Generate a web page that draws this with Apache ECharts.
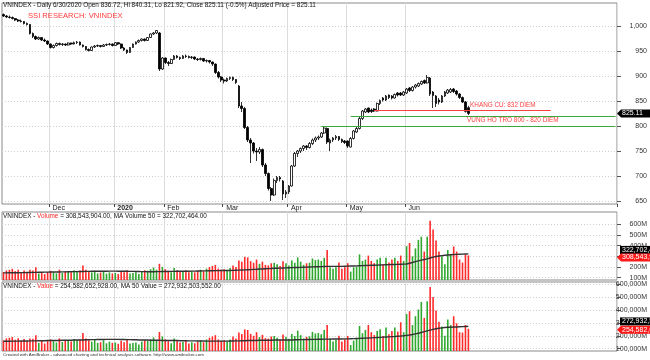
<!DOCTYPE html>
<html><head><meta charset="utf-8">
<script src="https://cdn.jsdelivr.net/npm/echarts@6/dist/echarts.min.js"></script>
<style>html,body{margin:0;padding:0;background:#fff}#c{width:650px;height:360px}</style>
</head><body><div id="c"></div>
<script>
const dates = [
'2019-11-08','2019-11-11','2019-11-12','2019-11-13','2019-11-14','2019-11-15','2019-11-18','2019-11-19','2019-11-20','2019-11-21','2019-11-22','2019-11-25','2019-11-26','2019-11-27','2019-11-28','2019-11-29',
'2019-12-02','2019-12-03','2019-12-04','2019-12-05','2019-12-06','2019-12-09','2019-12-10','2019-12-11','2019-12-12','2019-12-13','2019-12-16','2019-12-17','2019-12-18','2019-12-19','2019-12-20','2019-12-23','2019-12-24','2019-12-25','2019-12-26','2019-12-27','2019-12-30','2019-12-31',
'2020-01-02','2020-01-03','2020-01-06','2020-01-07','2020-01-08','2020-01-09','2020-01-10','2020-01-13','2020-01-14','2020-01-15','2020-01-16','2020-01-17','2020-01-20','2020-01-21','2020-01-22','2020-01-30','2020-01-31',
'2020-02-03','2020-02-04','2020-02-05','2020-02-06','2020-02-07','2020-02-10','2020-02-11','2020-02-12','2020-02-13','2020-02-14','2020-02-17','2020-02-18','2020-02-19','2020-02-20','2020-02-21','2020-02-24','2020-02-25','2020-02-26','2020-02-27','2020-02-28',
'2020-03-02','2020-03-03','2020-03-04','2020-03-05','2020-03-06','2020-03-09','2020-03-10','2020-03-11','2020-03-12','2020-03-13','2020-03-16','2020-03-17','2020-03-18','2020-03-19','2020-03-20','2020-03-23','2020-03-24','2020-03-25','2020-03-26','2020-03-27','2020-03-30','2020-03-31',
'2020-04-01','2020-04-03','2020-04-06','2020-04-07','2020-04-08','2020-04-09','2020-04-10','2020-04-13','2020-04-14','2020-04-15','2020-04-16','2020-04-17','2020-04-20','2020-04-21','2020-04-22','2020-04-23','2020-04-24','2020-04-27','2020-04-28','2020-04-29',
'2020-05-04','2020-05-05','2020-05-06','2020-05-07','2020-05-08','2020-05-11','2020-05-12','2020-05-13','2020-05-14','2020-05-15','2020-05-18','2020-05-19','2020-05-20','2020-05-21','2020-05-22','2020-05-25','2020-05-26','2020-05-27','2020-05-28','2020-05-29',
'2020-06-01','2020-06-02','2020-06-03','2020-06-04','2020-06-05','2020-06-08','2020-06-09','2020-06-10','2020-06-11','2020-06-12','2020-06-15','2020-06-16','2020-06-17','2020-06-18','2020-06-19','2020-06-22','2020-06-23','2020-06-24','2020-06-25','2020-06-26','2020-06-29','2020-06-30'];

const open = [1023,1020,1018,1017,1015,1012,1010,1009,1005,1003,985,979,974,977,972,970,
964,957,961,965,963,964,962,966,964,967,968,962,959,953,951,958,960,961,959,962,963,964,
961,966.7,964,956,952,947,957,964,968,971,974,971,977,984,986,986,914,
936,927,925,933,940,937,935,940,939,937,938,934,933,935,930,931,928,924,907,898,
892,890,895,897,893,880,840,835,797,772,766,750,748,753,722,705,675,662,691,697,690,664,
668,680,720,745,750,755,760,757,765,772,776,778,786,795,766,772,776,779,773,770,
770,758,775,788,795,815,828,836,832,834,830,845,856,852,862,860,856,866,866,862,
866,876,871,878,880,884,891,886,896,868,860,852,848,860,866,868,874,870,864,857,848,836.72];
const high = [1025,1022,1021,1019,1016,1014,1013,1010,1007,1004,987,981,979,978,975,971,
965,963,967,967,966,965,967,967,969,970,969,963,960,955,959,962,963,962,964,965,966,965,
968,968,965,958,953,958,965,969,973,975,975,978,985,988,992,988,938,
937,930,935,942,942,939,942,943,941,940,939,936,937,936,933,932,929,925,910,900,
895,897,899,899,894,882,848,838,800,776,768,756,758,755,726,707,678,695,700,700,692,672,
682,722,748,752,757,762,762,768,775,779,781,788,800,797,775,778,782,780,775,772,
771,778,792,798,818,832,836,837,835,836,847,853,858,862,863,862,865,868,868,870,
876,878,880,884,887,891,893,902,898,870,862,856,862,870,874,876,876,872,866,859,850,840.31];
const low = [1018,1016,1015,1013,1010,1008,1007,1003,1001,983,976,972,972,970,968,962,
955,955,959,961,960,960,961,962,963,964,961,957,951,949,950,956,958,957,958,960,961,959,
960,962,954,950,944,946,956,963,966,969,969,970,976,982,984,910,912,
924,920,924,932,935,932,934,936,935,934,932,930,931,928,927,925,920,904,895,888,
885,888,892,890,884,836,828,794,768,726,745,730,744,718,700,671,650,660,686,689,652,656,
664,679,718,738,746,750,752,755,762,768,772,776,784,764,750,768,772,770,766,764,
756,757,773,786,793,812,826,826,826,828,829,842,849,850,854,853,855,859,860,860,
864,868,869,875,878,882,884,885,860,836,838,843,846,858,864,866,866,861,854,846,827,821.92];
const close = [1020,1018,1017,1015,1012,1010,1009,1005,1003,985,979,974,977,972,970,964,
957,961,965,963,964,962,966,964,967,968,962,959,953,951,958,960,961,959,962,963,964,961,
966.7,964,956,952,947,957,964,968,971,974,971,977,984,986,991,914,936,
927,925,933,940,937,935,940,939,937,938,934,933,935,930,931,928,924,907,898,892,
890,895,897,893,887,840,835,797,772,766,750,748,753,722,705,675,662,691,697,694,664,668,
680,720,745,750,755,760,757,765,772,776,778,786,796,768,772,776,779,773,769,767,
760,775,790,795,815,830,834,828,829,830,845,851,852,860,857,856,863,862,862,868,
874,871,878,882,885,889,886,897,864,861,845,848,860,868,872,873,869,864,857,848,829.3,825.11];

// volume in millions of shares
const volume = [153,168,174,183,162,174,153,168,153,174,168,197,139,153,133,153,
165,150,140,175,145,160,155,150,170,160,168,215,175,160,150,165,140,148,160,138,150,140,
145,135,160,150,170,140,145,150,135,160,170,165,180,195,175,230,200,
180,165,150,190,170,155,160,170,150,160,150,165,175,160,185,200,210,220,185,175,
180,170,190,215,200,260,250,295,290,255,240,270,230,250,220,215,235,240,225,210,255,235,
215,260,240,290,250,220,235,240,280,265,270,
257,286,360,197,183,197,242,183,197,236,157,197,205,318,257,270,307,257,236,270,
286,227,286,242,270,286,257,307,257,395,425,300,374,454,484,345,484,634,551,449,
345,300,227,360,318,392,345,270,242,318,308.5];
const maVolume = [145,145,146,146,147,147,148,148,149,149,150,150,151,151,152,152,
153,153,154,154,155,155,156,156,157,157,158,158,159,159,160,160,160,161,161,161,162,162,
162,161,161,160,160,159,159,158,158,157,157,156,156,156,157,157,158,
158,158,159,159,160,160,160,161,161,162,162,163,163,164,164,165,165,166,166,167,
167,168,168,169,170,171,172,173,175,176,178,179,181,182,184,185,186,188,189,190,191,192,
193,194,195,196,197,198,199,200,201,202,203,204,205,206,206,206,206,206,206,207,
208,209,210,211,212,213,214,215,216,217,218,219,220,221,222,223,224,225,226,227,
228,235,242,250,257,264,270,276,284,292,298,303,307,310,313,315,317,318,320,321,322,322.7];
// traded value in billions VND (thousand M)
const value = [165,180,185,190,170,182,160,175,160,180,178,205,145,160,140,162,
172,158,148,180,152,168,160,155,175,165,172,222,180,165,155,170,145,150,165,142,155,145,
148,138,162,150,168,140,145,148,132,155,165,160,172,188,168,230,195,
172,158,142,180,160,148,152,160,140,150,142,155,165,150,172,185,195,205,172,162,
165,155,172,195,180,225,215,250,245,215,200,228,190,208,182,178,195,198,185,172,210,192,
178,215,198,240,205,180,192,196,230,218,222,
212,246,284,180,155,168,200,155,173,199,128,163,180,276,220,246,284,228,206,238,
251,199,264,212,238,264,233,305,228,370,391,284,352,404,463,339,468,580,502,396,
310,272,200,326,284,352,297,228,225,284,254.6];
const maValue = [158,158,158,159,159,159,160,160,160,161,161,161,162,162,162,163,
163,163,164,164,165,165,166,166,167,167,168,168,169,169,170,170,171,171,171,172,172,172,
172,172,171,171,170,170,169,169,168,168,167,167,166,166,165,165,164,
164,164,163,163,163,162,162,162,161,161,161,160,160,160,159,159,159,159,159,159,
159,159,160,160,161,161,162,162,163,163,164,164,165,165,166,166,166,167,167,167,168,168,
168,168,169,169,170,170,171,171,172,172,173,173,174,174,174,175,175,175,175,176,
176,177,178,179,180,181,182,183,184,186,187,188,190,191,192,194,195,197,198,200,
203,206,210,215,220,226,232,238,244,250,255,259,262,264,266,267,268,269,270,271,272,272.9];

const priceTicks = [650,700,750,800,850,900,950,1000];
const volTicks = [100,200,300,400,500,600];
const valTicks = [100,200,300,400,500,600];
const resistance = 832;
const supportLow = 800, supportHigh = 820;

const FONT = 'Liberation Sans';
const RED = '#ff2a2a', GREEN = '#2ea82e';
const PAD = 50;
const cats = dates.concat(Array.from({length: PAD}, (_, i) => 'pad' + i));
const MONTHS = ['Jan','Feb','Mar','Apr','May','Jun','Jul','Aug','Sep','Oct','Nov','Dec'];
function isMonthStart(i){ if (i <= 0 || i >= dates.length) return false; return dates[i].slice(5,7) !== dates[i-1].slice(5,7); }
function monthLabel(i){ const m = +dates[i].slice(5,7); return m === 1 ? '{y|' + dates[i].slice(0,4) + '}' : MONTHS[m-1]; }
const fmt = v => Number(v).toLocaleString('en-US');

const candleData = dates.map((d, i) => [open[i], close[i], low[i], high[i]]);
const colorOf = i => close[i] < open[i] ? RED : GREEN;
const volData = volume.map((v, i) => ({value: v, itemStyle: {color: colorOf(i)}}));
const valData = value.map((v, i) => ({value: v, itemStyle: {color: colorOf(i)}}));

const grids = [
  {left: 2, right: 33, top: 3, height: 201},
  {left: 2, right: 33, top: 212, height: 68},
  {left: 2, right: 33, top: 282, height: 69}
].map(g => Object.assign({show: true, borderColor: '#8a8a8a', borderWidth: 1, backgroundColor: 'transparent', outerBoundsMode: 'none'}, g));

const vSplit = {show: true, interval: (i) => isMonthStart(i), lineStyle: {color: '#dcdcdc', width: 1}};
function xAx(idx, withLabels){
  return {
    type: 'category', gridIndex: idx, data: cats, boundaryGap: true,
    axisLine: {show: false},
    axisTick: withLabels ? {show: true, interval: (i) => isMonthStart(i), length: 3, lineStyle: {color: '#444'}} : {show: false},
    axisLabel: withLabels ? {show: true, interval: (i) => isMonthStart(i), formatter: (v, i) => monthLabel(i),
      fontSize: 7, fontFamily: FONT, color: '#222', align: 'left', margin: 1, padding: [0,0,0,2],
      rich: {y: {fontSize: 7, fontWeight: 'bold', fontFamily: FONT, color: '#222'}}} : {show: false},
    splitLine: vSplit
  };
}
function yAx(idx, min, max, ticks, formatter){
  return {
    type: 'value', gridIndex: idx, position: 'right', min, max, scale: true,
    axisLine: {show: false},
    axisTick: {show: true, customValues: ticks, length: 4, lineStyle: {color: '#555'}},
    axisLabel: {show: true, customValues: ticks, formatter, fontSize: 7, fontFamily: FONT, color: '#333', align: 'right', margin: 30},
    splitLine: {show: true, lineStyle: {color: '#cfcfcf', type: [1, 2], width: 1}}
  };
}

const option = {
  animation: false,
  backgroundColor: '#fff',
  title: [
    {text: 'VNINDEX - Daily 6/30/2020 Open 836.72, Hi 840.31, Lo 821.92, Close 825.11 (-0.5%) Adjusted Price = 825.11',
     left: 3, top: 2, padding: 0, textStyle: {fontSize: 6.4, fontWeight: 'normal', fontFamily: FONT, color: '#111'}},
    {text: 'SSI RESEARCH: VNINDEX', left: 28, top: 11.5, padding: 0,
     textStyle: {fontSize: 7.6, fontWeight: 'normal', fontFamily: FONT, color: '#ff3b3b'}},
    {text: 'VNINDEX - {r|Volume} = 308,543,904.00, MA Volume 50 = 322,702,464.00', left: 3, top: 213, padding: 0,
     textStyle: {fontSize: 6.4, fontWeight: 'normal', fontFamily: FONT, color: '#111', rich: {r: {fontSize: 6.4, fontFamily: FONT, color: '#ff2a2a'}}}},
    {text: 'VNINDEX - {r|Value} = 254,582,652,928.00, MA 50 Value = 272,932,503,552.00', left: 3, top: 283, padding: 0,
     textStyle: {fontSize: 6.4, fontWeight: 'normal', fontFamily: FONT, color: '#111', rich: {r: {fontSize: 6.4, fontFamily: FONT, color: '#ff2a2a'}}}},
    {text: 'Created with AmiBroker - advanced charting and technical analysis software. http://www.amibroker.com', left: 3, top: 353, padding: 0,
     textStyle: {fontSize: 4.4, fontWeight: 'normal', fontFamily: FONT, color: '#333'}}
  ],
  grid: grids,
  xAxis: [xAx(0, true), xAx(1, false), xAx(2, false)],
  yAxis: [
    yAx(0, 644, 1046, priceTicks, v => fmt(v)),
    yAx(1, 78.5, 715, volTicks, v => v + 'M'),
    yAx(2, 82, 618, valTicks, v => fmt(v * 1000) + 'M')
  ],
  series: [
    {type: 'candlestick', xAxisIndex: 0, yAxisIndex: 0, data: candleData, barWidth: 2.2,
     itemStyle: {color: '#ffffff', color0: '#000000', borderColor: '#000000', borderColor0: '#000000', borderWidth: 0.8},
     markLine: {silent: true, symbol: 'none', label: {show: false},
       data: [
         [{coord: [126, resistance], lineStyle: {color: '#ff4040', width: 1, type: 'solid'}}, {coord: [186, resistance]}],
         [{coord: [118, supportHigh], lineStyle: {color: '#3aa83a', width: 1, type: 'solid'}}, {coord: [cats.length - 1, supportHigh]}],
         [{coord: [108, supportLow], lineStyle: {color: '#3aa83a', width: 1, type: 'solid'}}, {coord: [cats.length - 1, supportLow]}]
       ]}},
    {type: 'bar', xAxisIndex: 1, yAxisIndex: 1, data: volData, barWidth: 1.6},
    {type: 'line', xAxisIndex: 1, yAxisIndex: 1, data: maVolume, symbol: 'none', lineStyle: {color: '#333', width: 1.4}},
    {type: 'bar', xAxisIndex: 2, yAxisIndex: 2, data: valData, barWidth: 1.6},
    {type: 'line', xAxisIndex: 2, yAxisIndex: 2, data: maValue, symbol: 'none', lineStyle: {color: '#333', width: 1.4}}
  ]
};

const chart = echarts.init(document.getElementById('c'), null, {renderer: 'canvas'});
chart.setOption(option);

function tag(y, text, fill, arrow){
  const x0 = 617, h = 4;
  const pts = arrow ? [[x0, y], [x0 + 4, y - h], [652, y - h], [652, y + h], [x0 + 4, y + h]]
                    : [[x0 + 3, y - h], [652, y - h], [652, y + h], [x0 + 3, y + h]];
  return [
    {type: 'polygon', shape: {points: pts}, style: {fill: fill}, z: 100},
    {type: 'text', x: x0 + 5, y: y, style: {text: text, fill: '#fff', font: '7px ' + FONT, verticalAlign: 'middle'}, z: 101}
  ];
}
const yPrice = chart.convertToPixel({yAxisIndex: 0}, close[close.length - 1]);
const yVol = chart.convertToPixel({yAxisIndex: 1}, volume[volume.length - 1]);
const yVolMa = chart.convertToPixel({yAxisIndex: 1}, maVolume[maVolume.length - 1]);
const yVal = chart.convertToPixel({yAxisIndex: 2}, value[value.length - 1]);
const yValMa = chart.convertToPixel({yAxisIndex: 2}, maValue[maValue.length - 1]);
const yRes = chart.convertToPixel({yAxisIndex: 0}, resistance);
const ySup = chart.convertToPixel({yAxisIndex: 0}, supportHigh);
chart.setOption({graphic: [].concat(
  tag(yPrice, '825.11', '#000', true),
  tag(yVolMa - 4, '322,702,464', '#000', false),
  tag(yVol + 2, '308,543,904', '#ff1a1a', true),
  tag(yValMa - 5, '272,932,503', '#000', false),
  tag(yVal + 1, '254,582,652', '#ff1a1a', true),
  [
    {type: 'text', x: 470, y: yRes - 5, style: {text: 'KHANG CU: 832 DIEM', fill: '#ff4040', font: '6.4px ' + FONT, verticalAlign: 'middle'}, z: 50},
    {type: 'text', x: 467, y: ySup + 4, style: {text: 'VUNG HO TRO 800 - 820 DIEM', fill: '#ff4040', font: '6.4px ' + FONT, verticalAlign: 'middle'}, z: 50}
  ]
)});
</script>
</body></html>
